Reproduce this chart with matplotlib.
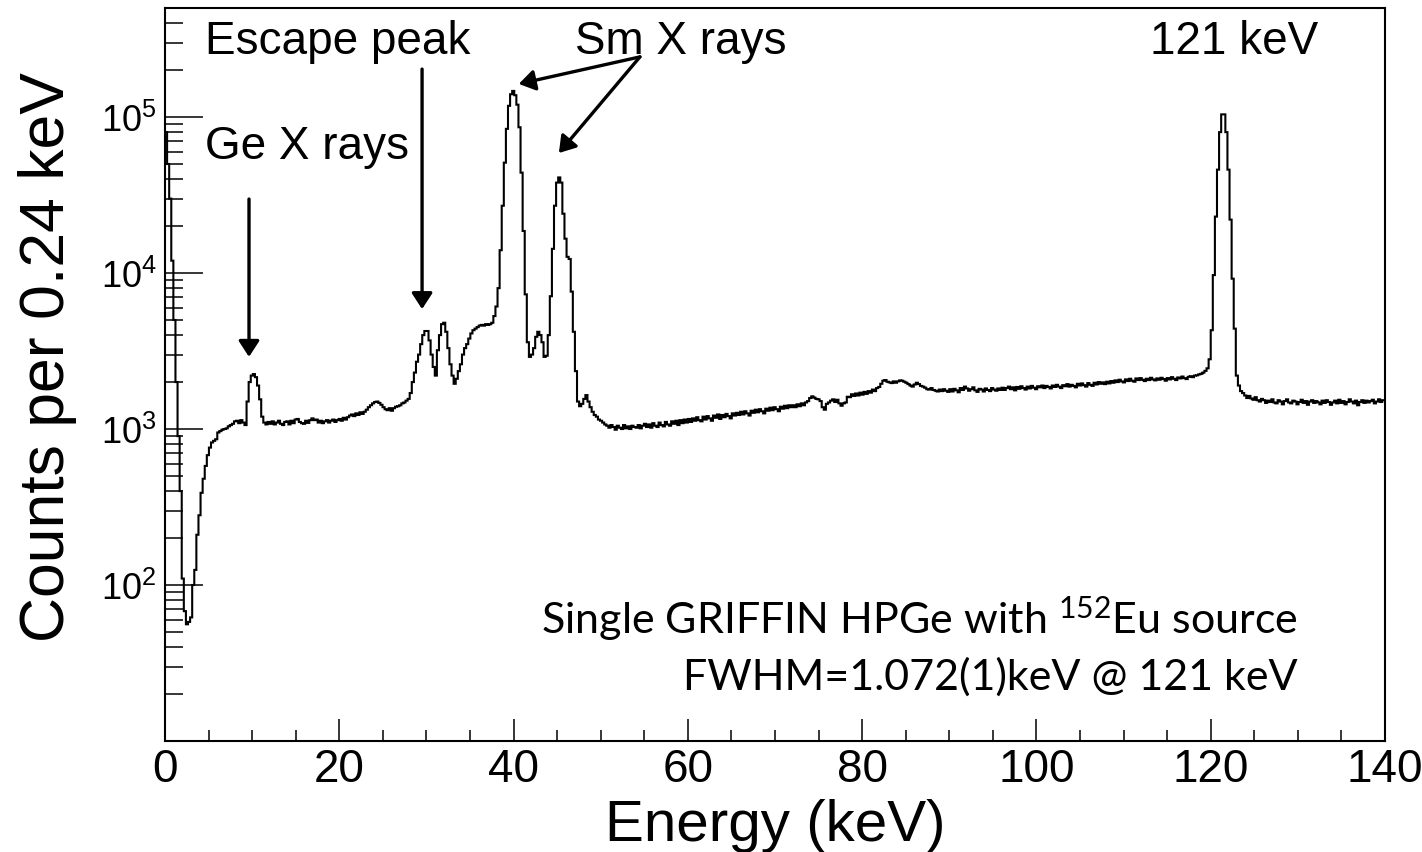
import numpy as np
import matplotlib
matplotlib.use('Agg')
import matplotlib.pyplot as plt
from matplotlib.ticker import MultipleLocator, FixedLocator, FuncFormatter, LogLocator, NullFormatter

# 152Eu spectrum, one GRIFFIN HPGe crystal, 0.24 keV bins starting at 0 keV
bin_width = 0.24
counts = [
    # 0-6 keV
    80000, 50000, 30000, 12000, 5000, 2000, 900, 400, 110, 68, 56, 58, 62, 100, 125, 210, 280, 390, 480, 580, 680, 760, 820, 840, 860,
    # 6-12 keV (Ge X rays)
    950, 970, 990, 1000, 1010, 1040, 1060, 1080, 1120, 1130, 1090, 1140, 1100, 1060, 1500, 2000, 2200, 2250, 2150, 1900, 1550, 1200, 1100, 1070, 1110,
    # 12-18 keV
    1080, 1120, 1070, 1100, 1130, 1080, 1060, 1110, 1120, 1070, 1130, 1090, 1150, 1160, 1110, 1090, 1080, 1130, 1095, 1140, 1170, 1140, 1150, 1100, 1130,
    # 18-24 keV
    1090, 1120, 1140, 1100, 1130, 1150, 1110, 1140, 1160, 1130, 1180, 1150, 1190, 1220, 1240, 1210, 1260, 1230, 1280, 1250, 1290, 1330, 1380, 1420, 1460,
    # 24-30 keV (escape peaks)
    1490, 1500, 1470, 1430, 1380, 1340, 1320, 1360, 1310, 1360, 1390, 1400, 1420, 1460, 1480, 1520, 1560, 1700, 2000, 2300, 2700, 3000, 3500, 4000, 4250,
    # 30-36 keV
    4250, 3700, 3000, 2500, 2200, 3200, 4000, 4700, 4800, 4200, 3300, 2600, 2200, 1950, 2100, 2350, 2600, 3000, 3300, 3500, 3800, 4100, 4300, 4400, 4500,
    # 36-42 keV (Sm K alpha)
    4600, 4650, 4600, 4700, 4650, 4700, 4800, 5300, 6100, 8000, 14000, 27000, 51000, 84000, 118000, 140000, 147000, 138000, 120000, 86000, 44000, 18600, 7300, 3600, 2900,
    # 42-48 keV (Sm K beta)
    3000, 3300, 3900, 4200, 4000, 3600, 2900, 2950, 4000, 7100, 14300, 27000, 38000, 41000, 38000, 24000, 16600, 12700, 12300, 7600, 4200, 2350, 1500, 1400, 1450,
    # 48-54 keV
    1560, 1650, 1500, 1380, 1290, 1230, 1200, 1150, 1130, 1100, 1070, 1050, 1020, 1060, 1030, 990, 1050, 1020, 1000, 1060, 1010, 1040, 1000, 1050, 1030,
    # 54-60 keV
    1020, 1060, 1010, 1050, 1080, 1030, 1070, 1020, 1090, 1050, 1030, 1100, 1060, 1040, 1110, 1070, 1050, 1120, 1080, 1130, 1060, 1140, 1090, 1150, 1100,
    # 60-66 keV
    1160, 1110, 1170, 1130, 1190, 1140, 1120, 1200, 1150, 1210, 1170, 1130, 1220, 1180, 1240, 1160, 1230, 1190, 1250, 1210, 1170, 1260, 1220, 1270, 1230,
    # 66-72 keV
    1290, 1240, 1300, 1260, 1220, 1310, 1270, 1330, 1280, 1340, 1300, 1260, 1350, 1310, 1370, 1320, 1380, 1340, 1300, 1390, 1350, 1410, 1360, 1420, 1380,
    # 72-78 keV
    1420, 1380, 1440, 1400, 1460, 1420, 1480, 1510, 1580, 1620, 1590, 1560, 1550, 1510, 1380, 1330, 1450, 1480, 1520, 1550, 1490, 1540, 1460, 1410, 1460,
    # 78-84 keV
    1480, 1610, 1600, 1670, 1630, 1690, 1640, 1710, 1660, 1730, 1680, 1750, 1710, 1790, 1750, 1830, 1860, 1950, 2040, 2060, 2010, 1990, 1970, 2020, 1980,
    # 84-90 keV
    2020, 2050, 2040, 2010, 1980, 1940, 1900, 1870, 1930, 1980, 1940, 1890, 1870, 1840, 1800, 1790, 1830, 1780, 1760, 1740, 1790, 1750, 1800, 1760, 1730,
    # 90-96 keV
    1800, 1740, 1810, 1770, 1720, 1830, 1780, 1870, 1820, 1760, 1800, 1850, 1770, 1730, 1810, 1790, 1740, 1820, 1780, 1750, 1830, 1790, 1760, 1820, 1780,
    # 96-102 keV
    1840, 1780, 1830, 1870, 1800, 1850, 1770, 1860, 1810, 1880, 1830, 1790, 1870, 1820, 1890, 1840, 1800, 1880, 1850, 1900, 1830, 1890, 1860, 1820, 1900,
    # 102-108 keV
    1860, 1920, 1870, 1830, 1910, 1880, 1940, 1870, 1920, 1890, 1850, 1950, 1900, 1960, 1910, 1870, 1970, 1920, 1890, 1980, 1930, 2000, 1950, 1990, 1940,
    # 108-114 keV
    2010, 1960, 2030, 1980, 2050, 2000, 2070, 2020, 1990, 2080, 2030, 2100, 2040, 2010, 2110, 2060, 2120, 2070, 2030, 2100, 2060, 2130, 2080, 2050, 2110,
    # 114-120 keV
    2070, 2130, 2090, 2040, 2120, 2080, 2150, 2100, 2060, 2140, 2110, 2170, 2120, 2090, 2160, 2180, 2150, 2200, 2210, 2240, 2260, 2300, 2360, 2450, 2800,
    # 120-126 keV (121.8 keV line)
    4300, 9700, 23000, 46000, 80000, 104000, 104000, 80000, 46000, 22000, 9200, 4400, 2200, 1900, 1750, 1700, 1640, 1580, 1630, 1570, 1540, 1600, 1530, 1500, 1560,
    # 126-132 keV
    1530, 1470, 1520, 1490, 1550, 1480, 1460, 1530, 1500, 1440, 1510, 1550, 1480, 1460, 1520, 1500, 1440, 1490, 1540, 1470, 1510, 1430, 1500, 1530, 1470,
    # 132-138 keV
    1510, 1480, 1440, 1520, 1470, 1530, 1490, 1430, 1480, 1520, 1460, 1540, 1470, 1510, 1440, 1490, 1550, 1500, 1460, 1520, 1420, 1490, 1530, 1470, 1520,
    # 138-140 keV
    1480, 1510, 1540, 1460, 1500, 1550, 1490, 1530,
]

y_ticks = [1e2, 1e3, 1e4, 1e5]

edges = np.arange(len(counts) + 1) * bin_width

plt.rcParams['font.family'] = ['Liberation Sans', 'DejaVu Sans']

W, H = 1422, 853
fig = plt.figure(figsize=(W / 100, H / 100), dpi=100)
fig.patch.set_facecolor('white')
ax = fig.add_axes([165 / W, 1 - 742 / H, (1385 - 165) / W, (742 - 9) / H])

ax.stairs(counts, edges, baseline=None, color='black', lw=1.5)

ax.set_yscale('log')
ax.set_xlim(0, 140)
ax.set_ylim(10, 5e5)

ax.xaxis.set_major_locator(MultipleLocator(20))
ax.xaxis.set_minor_locator(MultipleLocator(5))
ax.yaxis.set_major_locator(FixedLocator(y_ticks))
ax.yaxis.set_major_formatter(FuncFormatter(lambda v, p: r'$\mathdefault{10^{%d}}$' % round(np.log10(v))))
ax.yaxis.set_minor_locator(LogLocator(base=10, subs=np.arange(2, 10), numticks=20))
ax.yaxis.set_minor_formatter(NullFormatter())

ax.tick_params(axis='x', which='major', direction='in', length=16, width=1.1, labelsize=33, pad=4, top=False)
ax.tick_params(axis='x', which='minor', direction='in', length=8, width=1.1, top=False)
ax.tick_params(axis='y', which='major', direction='in', length=27, width=1.1, labelsize=26, pad=6, right=False)
ax.tick_params(axis='y', which='minor', direction='in', length=13, width=1.1, right=False)
for s in ax.spines.values():
    s.set_linewidth(1.5)

# axis titles
fig.text(775 / W, 1 - 826 / H, 'Energy (keV)', fontsize=42, ha='center', va='center')
fig.text(48 / W, 1 - 357 / H, 'Counts per 0.24 keV', fontsize=45, ha='center', va='center', rotation=90)

# peak labels
arrow = dict(arrowstyle='-|>,head_length=0.4,head_width=0.26', color='black', lw=2.4,
             mutation_scale=24, shrinkA=0, shrinkB=0)
ax.annotate('', xy=(9.64, 2900), xytext=(9.64, 29800), arrowprops=arrow)
ax.annotate('', xy=(29.5, 5870), xytext=(29.5, 2.03e5), arrowprops=arrow)
ax.annotate('', xy=(40.6, 1.63e5), xytext=(54.5, 2.43e5), arrowprops=arrow)
ax.annotate('', xy=(45.2, 5.88e4), xytext=(54.5, 2.43e5), arrowprops=arrow)

fig.text(205 / W, 1 - 54 / H, 'Escape peak', fontsize=33, va='baseline')
fig.text(575 / W, 1 - 54 / H, 'Sm X rays', fontsize=33, va='baseline')
fig.text(1150 / W, 1 - 54 / H, '121 keV', fontsize=33, va='baseline')
fig.text(205 / W, 1 - 159 / H, 'Ge X rays', fontsize=33, va='baseline')

fig.text(1298 / W, 1 - 634 / H, r'Single GRIFFIN HPGe with $\mathdefault{^{152}}$Eu source',
         fontsize=31, family='Lato', ha='right', va='baseline')
fig.text(1298 / W, 1 - 690 / H, 'FWHM=1.072(1)keV @ 121 keV',
         fontsize=31, family='Lato', ha='right', va='baseline')

fig.savefig('out.png', dpi=100)
